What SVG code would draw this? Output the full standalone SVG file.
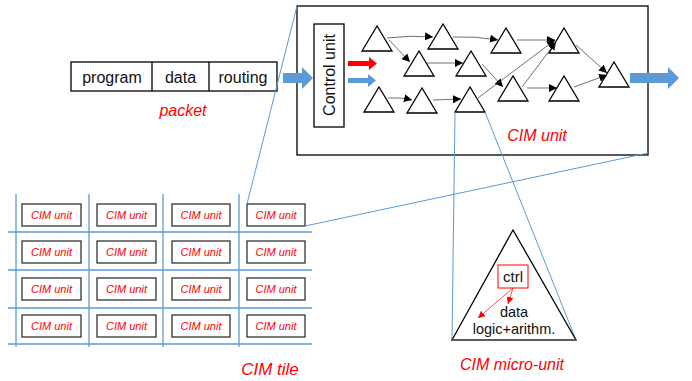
<svg xmlns="http://www.w3.org/2000/svg" width="692" height="381" viewBox="0 0 692 381">
<style>
.box{fill:#fff;stroke:#000;stroke-width:1.3}
.tri{fill:#fff;stroke:#000;stroke-width:1.3;stroke-linejoin:miter}
.t{font-family:"Liberation Sans",Arial,sans-serif;fill:#111}
.r{font-family:"Liberation Sans",Arial,sans-serif;fill:#f00;font-style:italic}
.bl{stroke:#5b9bd5;stroke-width:1;fill:none}
.grid{stroke:#5b9bd5;stroke-width:1.3;fill:none}
.edge{stroke:#333;stroke-width:0.7;fill:none;marker-end:url(#ah)}
.cell{fill:#fff;stroke:#333;stroke-width:1.3}
.fat{fill:#5b9bd5}
</style>
<defs>
<marker id="ah" viewBox="0 0 10 10" refX="10" refY="5" markerWidth="8" markerHeight="8" markerUnits="userSpaceOnUse" orient="auto">
<path d="M0,0 L10,5 L0,10 z" fill="#000"/>
</marker>
<marker id="ahr" viewBox="0 0 10 10" refX="10" refY="5" markerWidth="7" markerHeight="7" markerUnits="userSpaceOnUse" orient="auto">
<path d="M0,0 L10,5 L0,10 z" fill="#f00"/>
</marker>
</defs>
<rect width="692" height="381" fill="#fff"/>

<g id="tile">
<g class="grid">
<line x1="16" y1="194" x2="16" y2="347"/>
<line x1="89" y1="194" x2="89" y2="347"/>
<line x1="163" y1="194" x2="163" y2="347"/>
<line x1="239" y1="194" x2="239" y2="347"/>
<line x1="8" y1="232" x2="312" y2="232"/>
<line x1="8" y1="270" x2="312" y2="270"/>
<line x1="8" y1="308" x2="312" y2="308"/>
<line x1="8" y1="344" x2="312" y2="344"/>
</g>
<g id="cells">
<rect class="cell" x="22" y="204" width="59" height="22"/><text class="r" x="51.5" y="219" font-size="11" text-anchor="middle">CIM unit</text>
<rect class="cell" x="97" y="204" width="59" height="22"/><text class="r" x="126.5" y="219" font-size="11" text-anchor="middle">CIM unit</text>
<rect class="cell" x="172" y="204" width="58" height="22"/><text class="r" x="201" y="219" font-size="11" text-anchor="middle">CIM unit</text>
<rect class="cell" x="247" y="204" width="58" height="22"/><text class="r" x="276" y="219" font-size="11" text-anchor="middle">CIM unit</text>
<rect class="cell" x="22" y="241" width="59" height="22"/><text class="r" x="51.5" y="256" font-size="11" text-anchor="middle">CIM unit</text>
<rect class="cell" x="97" y="241" width="59" height="22"/><text class="r" x="126.5" y="256" font-size="11" text-anchor="middle">CIM unit</text>
<rect class="cell" x="172" y="241" width="58" height="22"/><text class="r" x="201" y="256" font-size="11" text-anchor="middle">CIM unit</text>
<rect class="cell" x="247" y="241" width="58" height="22"/><text class="r" x="276" y="256" font-size="11" text-anchor="middle">CIM unit</text>
<rect class="cell" x="22" y="278" width="59" height="22"/><text class="r" x="51.5" y="293" font-size="11" text-anchor="middle">CIM unit</text>
<rect class="cell" x="97" y="278" width="59" height="22"/><text class="r" x="126.5" y="293" font-size="11" text-anchor="middle">CIM unit</text>
<rect class="cell" x="172" y="278" width="58" height="22"/><text class="r" x="201" y="293" font-size="11" text-anchor="middle">CIM unit</text>
<rect class="cell" x="247" y="278" width="58" height="22"/><text class="r" x="276" y="293" font-size="11" text-anchor="middle">CIM unit</text>
<rect class="cell" x="22" y="315" width="59" height="22"/><text class="r" x="51.5" y="330" font-size="11" text-anchor="middle">CIM unit</text>
<rect class="cell" x="97" y="315" width="59" height="22"/><text class="r" x="126.5" y="330" font-size="11" text-anchor="middle">CIM unit</text>
<rect class="cell" x="172" y="315" width="58" height="22"/><text class="r" x="201" y="330" font-size="11" text-anchor="middle">CIM unit</text>
<rect class="cell" x="247" y="315" width="58" height="22"/><text class="r" x="276" y="330" font-size="11" text-anchor="middle">CIM unit</text>
</g>
<text class="r" x="270" y="375" font-size="17" text-anchor="middle">CIM tile</text>
</g>

<g id="packet">
<rect class="box" x="71" y="62" width="206" height="29"/>
<line x1="152" y1="62" x2="152" y2="91" stroke="#000" stroke-width="1.3"/>
<line x1="209" y1="62" x2="209" y2="91" stroke="#000" stroke-width="1.3"/>
<text class="t" x="112" y="83" font-size="16" text-anchor="middle">program</text>
<text class="t" x="180.5" y="83" font-size="16" text-anchor="middle">data</text>
<text class="t" x="243" y="83" font-size="16" text-anchor="middle">routing</text>
<text class="r" x="183" y="116" font-size="16" text-anchor="middle">packet</text>
</g>

<g id="cim-unit">
<rect class="box" x="297" y="6" width="351" height="149"/>
<text class="r" x="537" y="141" font-size="16" text-anchor="middle">CIM unit</text>
</g>

<g id="control-unit">
<rect class="box" x="314" y="24" width="30" height="103"/>
<text class="t" transform="translate(335,75) rotate(-90)" font-size="16" text-anchor="middle">Control unit</text>
</g>

<g id="big-arrows">
<path class="fat" d="M283,73 H302 V67 L313,78 L302,89 V83 H283 Z"/>
<path class="fat" d="M630,73 H668 V67 L679,78 L668,89 V83 H630 Z"/>
<path d="M348,61 H369 V57 L377,63.5 L369,70 V66 H348 Z" fill="#f00"/>
<path class="fat" d="M348,78 H368 V74 L376,80.5 L368,87 V83 H348 Z"/>
</g>

<g id="triangles">
<polygon id="t1" class="tri" points="377,26 362,51 392,51"/>
<polygon id="t2" class="tri" points="443,24 428,49 458,49"/>
<polygon id="t3" class="tri" points="419,51 404,76 434,76"/>
<polygon id="t4" class="tri" points="471,51 456,76 486,76"/>
<polygon id="t5" class="tri" points="506,28 491,53 521,53"/>
<polygon id="t6" class="tri" points="564,28 549,53 579,53"/>
<polygon id="t7" class="tri" points="379,87 364,112 394,112"/>
<polygon id="t8" class="tri" points="422,88 407,113 437,113"/>
<polygon id="t9" class="tri" points="470,87 455,112 485,112"/>
<polygon id="t10" class="tri" points="513,76 498,101 528,101"/>
<polygon id="t11" class="tri" points="564,76 549,101 579,101"/>
<polygon id="t12" class="tri" points="614,62 599,87 629,87"/>
</g>

<g id="connectors">
<path class="edge" d="M387,38 Q410,35 433,37"/>
<path class="edge" d="M389,40 L410,62"/>
<path class="edge" d="M453,37 Q475,36 498,40"/>
<path class="edge" d="M427,63 L463,63"/>
<path class="edge" d="M482,64 L503,87"/>
<path class="edge" d="M517,40 L555,40"/>
<path class="edge" d="M388,98 Q400,97 412,100"/>
<path class="edge" d="M433,100 L461,99"/>
<path class="edge" d="M478,98 L555,40"/>
<path class="edge" d="M522,87 L556,42"/>
<path class="edge" d="M527,88 L557,88"/>
<path class="edge" d="M576,45 L607,73"/>
<path class="edge" d="M574,87 L607,75"/>
<line class="bl" x1="297" y1="6" x2="247" y2="204"/>
<line class="bl" x1="648" y1="153" x2="305" y2="226"/>
<line class="bl" x1="455" y1="112" x2="452" y2="340"/>
<line class="bl" x1="485" y1="112" x2="576" y2="340"/>
</g>

<g id="micro-unit">
<polygon points="513,230 452,340 576,340" fill="#fff" stroke="#000" stroke-width="1.3"/>
<line x1="452" y1="340" x2="576" y2="340" stroke="#666" stroke-width="1.5"/>
<rect x="498" y="265" width="30" height="23" fill="#fff" stroke="#f00" stroke-width="1"/>
<text class="t" x="513" y="282" font-size="15" text-anchor="middle">ctrl</text>
<line x1="513" y1="288" x2="508" y2="304" stroke="#f00" stroke-width="0.7" marker-end="url(#ahr)"/>
<line x1="513" y1="288" x2="478" y2="318" stroke="#f00" stroke-width="0.7" marker-end="url(#ahr)"/>
<text class="t" x="514" y="317" font-size="14.5" text-anchor="middle">data</text>
<text class="t" x="514" y="334" font-size="14.5" text-anchor="middle">logic+arithm.</text>
<text class="r" x="512" y="370" font-size="16" text-anchor="middle">CIM micro-unit</text>
</g>
</svg>
